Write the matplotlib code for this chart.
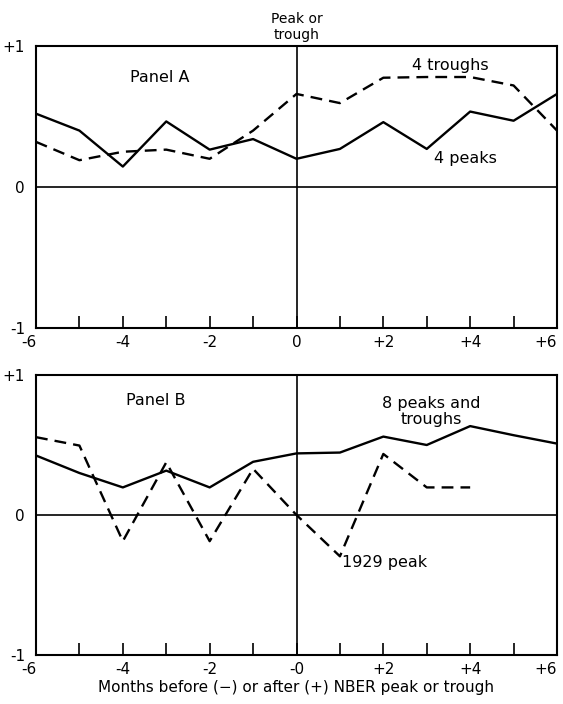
import matplotlib.pyplot as plt
import numpy as np

# months relative to NBER peak or trough
months = list(range(-6, 7))

# Panel A
a_peaks = [0.52, 0.40, 0.145, 0.465, 0.265, 0.34, 0.20, 0.27, 0.46, 0.27, 0.535, 0.47, 0.66]
a_troughs = [0.32, 0.19, 0.25, 0.265, 0.20, 0.40, 0.66, 0.595, 0.775, 0.78, 0.78, 0.72, 0.40]

# Panel B
b_all = [0.425, 0.30, 0.197, 0.317, 0.197, 0.38, 0.44, 0.446, 0.56, 0.50, 0.635, 0.57, 0.51]
b_months_1929 = list(range(-6, 5))
b_1929 = [0.556, 0.496, -0.187, 0.376, -0.187, 0.33, 0.0, -0.295, 0.436, 0.197, 0.197]

ticks_a = ['-6', '-4', '-2', '0', '+2', '+4', '+6']
ticks_b = ['-6', '-4', '-2', '-0', '+2', '+4', '+6']

plt.rcParams['font.family'] = 'DejaVu Sans'

W, H = 563, 704
fig = plt.figure(figsize=(W / 100, H / 100), dpi=100)

def make_axes(top_px, bottom_px):
    return fig.add_axes([36 / W, 1 - bottom_px / H, (557 - 36) / W, (bottom_px - top_px) / H])

axA = make_axes(46, 328)
axB = make_axes(375, 655)

def style(ax, ticklabels):
    ax.set_xlim(-6, 6)
    ax.set_ylim(-1, 1)
    for s in ax.spines.values():
        s.set_linewidth(1.5)
    ax.axhline(0, color='black', lw=1.2)
    ax.axvline(0, color='black', lw=1.2)
    ax.set_xticks(range(-6, 7, 2))
    ax.set_xticklabels(ticklabels, fontsize=11)
    ax.set_xticks(range(-5, 6, 2), minor=True)
    ax.tick_params(axis='x', which='both', direction='in', length=9, width=1.2,
                   pad=5, top=False)
    ax.get_xticklabels()[-1].set_ha('right')
    ax.get_xticklabels()[0].set_ha('right')
    ax.set_yticks([-1, 0, 1])
    ax.set_yticklabels(['-1', '0', '+1'], fontsize=11)
    ax.tick_params(axis='y', length=0, pad=8)

style(axA, ticks_a)
style(axB, ticks_b)

dash = (0, (5, 3))

# Panel A
axA.plot(months, a_peaks, color='black', lw=1.7)
axA.plot(months, a_troughs, color='black', lw=1.7, linestyle=dash)
axA.text(-3.15, 0.78, 'Panel A', fontsize=11.5, ha='center', va='center')
axA.text(3.55, 0.86, '4 troughs', fontsize=11.5, ha='center', va='center')
axA.text(3.9, 0.20, '4 peaks', fontsize=11.5, ha='center', va='center')
axA.text(0, 1.03, 'Peak or\ntrough', fontsize=10, ha='center', va='bottom',
         linespacing=1.2)

# Panel B
axB.plot(months, b_all, color='black', lw=1.7)
axB.plot(b_months_1929, b_1929, color='black', lw=1.7, linestyle=dash)
axB.text(-3.25, 0.82, 'Panel B', fontsize=11.5, ha='center', va='center')
axB.text(3.1, 0.74, '8 peaks and\ntroughs', fontsize=11.5, ha='center', va='center',
         linespacing=1.1)
axB.text(1.05, -0.34, '1929 peak', fontsize=11.5, ha='left', va='center')
axB.set_xlabel('Months before (\u2212) or after (+) NBER peak or trough', fontsize=11,
               labelpad=2)

fig.savefig('out.png', dpi=100)
